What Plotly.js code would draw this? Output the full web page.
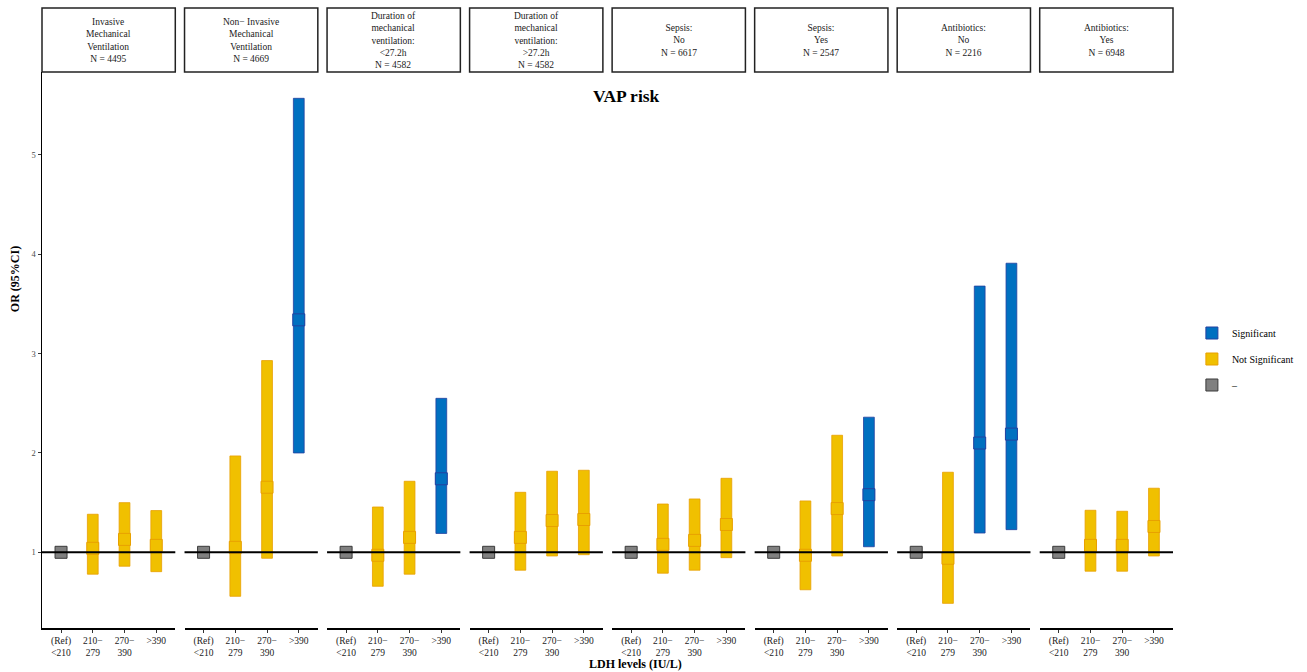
<!DOCTYPE html>
<html>
<head>
<meta charset="utf-8">
<script src="https://cdn.plot.ly/plotly-3.0.1.min.js"></script>
<style>html,body{margin:0;padding:0;background:#fff;}#chart{width:1307px;height:672px;}</style>
</head>
<body>
<div id="chart"></div>
<script>
// ---- data ----
const panelTitles = [
  "Invasive<br>Mechanical<br>Ventilation<br>N = 4495",
  "Non− Invasive<br>Mechanical<br>Ventilation<br>N = 4669",
  "Duration of<br>mechanical<br>ventilation:<br>&lt;27.2h<br>N = 4582",
  "Duration of<br>mechanical<br>ventilation:<br>&gt;27.2h<br>N = 4582",
  "Sepsis:<br>No<br>N = 6617",
  "Sepsis:<br>Yes<br>N = 2547",
  "Antibiotics:<br>No<br>N = 2216",
  "Antibiotics:<br>Yes<br>N = 6948"
];
const ldhLevels = ["(Ref)<br>&lt;210", "210−<br>279", "270−<br>390", "&gt;390"];
const oddsRatio = [
  [1, 1.04, 1.13, 1.07],
  [1, 1.05, 1.655, 3.34],
  [1, 0.97, 1.15, 1.74],
  [1, 1.15, 1.32, 1.33],
  [1, 1.08, 1.12, 1.28],
  [1, 0.97, 1.44, 1.58],
  [1, 0.94, 2.10, 2.19],
  [1, 1.07, 1.07, 1.26]
];
const ciLower = [
  [1, 0.78, 0.86, 0.805],
  [1, 0.557, 0.94, 2.0],
  [1, 0.658, 0.78, 1.19],
  [1, 0.82, 0.963, 0.976],
  [1, 0.79, 0.82, 0.946],
  [1, 0.623, 0.963, 1.056],
  [1, 0.486, 1.194, 1.228],
  [1, 0.81, 0.81, 0.963]
];
const ciUpper = [
  [1, 1.383, 1.50, 1.42],
  [1, 1.97, 2.93, 5.57],
  [1, 1.456, 1.715, 2.55],
  [1, 1.604, 1.816, 1.826],
  [1, 1.486, 1.537, 1.745],
  [1, 1.517, 2.178, 2.36],
  [1, 1.806, 3.68, 3.91],
  [1, 1.423, 1.413, 1.645]
];
const NS = "Not Significant", SG = "Significant", RF = "–";
const significance = [
  [RF, NS, NS, NS],
  [RF, NS, NS, SG],
  [RF, NS, NS, SG],
  [RF, NS, NS, NS],
  [RF, NS, NS, NS],
  [RF, NS, NS, SG],
  [RF, NS, SG, SG],
  [RF, NS, NS, NS]
];
const groupOrder = [SG, NS, RF];

// ---- styles ----
const groupStyle = {
  "Significant":     {fill: "#0070C0", line: "#2340A0"},
  "Not Significant": {fill: "#F0C000", line: "#E8A000"},
  "–":               {fill: "#808080", line: "#3a3a3a"}
};
const FONT = "'Liberation Serif', 'Times New Roman', Times, serif";
const L = 42, R = 1179, T = 8, B = 628, W = 1307, H = 672;
const plotW = R - L, plotH = B - T;
const panelW = 134;
const step = (plotW - panelW) / 7;
const yTopPx = 72;
const yDomTop = (B - yTopPx) / plotH;
const px2x = p => (p - L) / plotW;
const py2y = p => (B - p) / plotH;

const traces = [];
const shownLegend = {};
const layout = {
  width: W, height: H,
  margin: {l: L, r: W - R, t: T, b: H - B},
  paper_bgcolor: "#fff", plot_bgcolor: "#fff",
  font: {family: FONT, color: "#000"},
  barmode: "overlay",
  showlegend: true,
  legend: {x: px2x(1198), y: py2y(359), xanchor: "left", yanchor: "middle",
           font: {family: FONT, size: 10, color: "#000"}, tracegroupgap: 7,
           bgcolor: "rgba(0,0,0,0)"},
  yaxis: {
    domain: [0, yDomTop], range: [0.238, 5.835], anchor: "x",
    tickvals: [1, 2, 3, 4, 5], ticks: "outside", ticklen: 3, tickcolor: "#333",
    tickfont: {family: FONT, size: 8.5, color: "#4d4d4d"},
    showline: true, linecolor: "#000", linewidth: 1.5,
    showgrid: false, zeroline: false, fixedrange: true
  },
  shapes: [], annotations: []
};

panelTitles.forEach((title, i) => {
  const xa = i === 0 ? "x" : "x" + (i + 1);
  const axName = i === 0 ? "xaxis" : "xaxis" + (i + 1);
  const d0 = (i * step) / plotW, d1 = (i * step + panelW) / plotW;
  layout[axName] = {
    domain: [d0, d1], anchor: "y", type: "category",
    categoryorder: "array", categoryarray: ldhLevels,
    range: [-0.6, 3.6],
    showline: true, linecolor: "#000", linewidth: 1.5,
    ticks: "outside", ticklen: 3, tickcolor: "#333",
    tickfont: {family: FONT, size: 9.5, color: "#222"},
    showgrid: false, zeroline: false, fixedrange: true
  };
  groupOrder.forEach(g => {
    const idx = [0, 1, 2, 3].filter(k => significance[i][k] === g);
    if (!idx.length) return;
    const st = groupStyle[g];
    const showL = !shownLegend[g];
    shownLegend[g] = true;
    traces.push({
      type: "bar", xaxis: xa, yaxis: "y",
      x: idx.map(k => ldhLevels[k]),
      base: idx.map(k => ciLower[i][k]),
      y: idx.map(k => ciUpper[i][k] - ciLower[i][k]),
      width: 0.34,
      marker: {color: st.fill, line: {color: st.line, width: 0.8}},
      name: g, legendgroup: g, showlegend: false, hoverinfo: "skip"
    });
    traces.push({
      type: "scatter", mode: "markers", xaxis: xa, yaxis: "y",
      x: idx.map(k => ldhLevels[k]),
      y: idx.map(k => oddsRatio[i][k]),
      marker: {symbol: "square", size: 12, color: st.fill, line: {color: st.line, width: 1}},
      name: g, legendgroup: g, showlegend: showL,
      legendrank: groupOrder.indexOf(g) + 1
    });
  });
  // strip box
  layout.shapes.push({
    type: "rect", xref: xa + " domain", yref: "paper",
    x0: 0, x1: 1, y0: yDomTop, y1: 1,
    line: {color: "#222", width: 1.5}, fillcolor: "#fff", layer: "below"
  });
  // reference line at OR = 1
  layout.shapes.push({
    type: "line", xref: xa + " domain", yref: "y",
    x0: 0, x1: 1, y0: 1, y1: 1,
    line: {color: "#000", width: 2}, layer: "above"
  });
  layout.annotations.push({
    xref: xa + " domain", yref: "paper", x: 0.5, y: (yDomTop + 1) / 2,
    xanchor: "center", yanchor: "middle", showarrow: false,
    text: title, align: "center",
    font: {family: FONT, size: 9.5, color: "#1a1a1a"}
  });
});

layout.annotations.push(
  {xref: "paper", yref: "paper", x: px2x(630), y: py2y(96), showarrow: false,
   xanchor: "center", yanchor: "middle", text: "<b>VAP risk</b>",
   font: {family: FONT, size: 17.5, color: "#000"}},
  {xref: "paper", yref: "paper", x: px2x(639), y: py2y(664), showarrow: false,
   xanchor: "center", yanchor: "middle", text: "<b>LDH levels (IU/L)</b>",
   font: {family: FONT, size: 12, color: "#000"}},
  {xref: "paper", yref: "paper", x: px2x(15), y: py2y(279), showarrow: false,
   xanchor: "center", yanchor: "middle", textangle: -90, text: "<b>OR (95%CI)</b>",
   font: {family: FONT, size: 12, color: "#000"}}
);

Plotly.newPlot("chart", traces, layout, {displayModeBar: false, staticPlot: true});
</script>
</body>
</html>
